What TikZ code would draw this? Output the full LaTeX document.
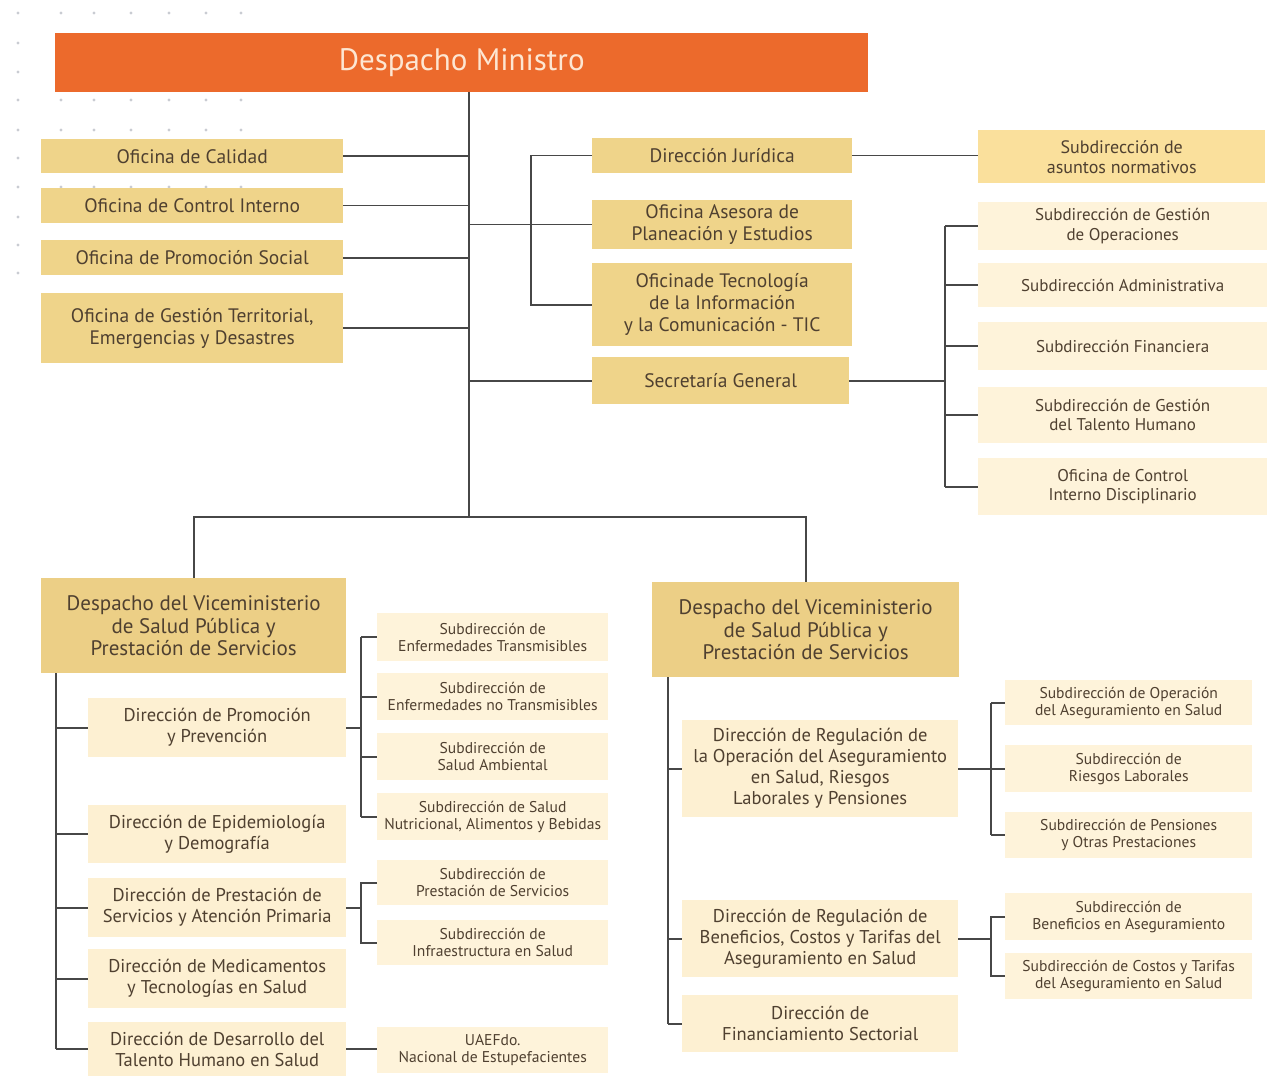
\documentclass[tikz,border=0pt]{standalone}
\usepackage{fontspec}
\setmainfont{PT Sans}
\definecolor{headorange}{HTML}{EC6A2C}
\definecolor{headtext}{HTML}{FDE6D2}
\definecolor{goldA}{HTML}{EFD48A}
\definecolor{goldB}{HTML}{ECCF86}
\definecolor{goldC}{HTML}{FAE09C}
\definecolor{paleA}{HTML}{FDF0D2}
\definecolor{paleB}{HTML}{FEF3DA}
\definecolor{inktext}{HTML}{4F4030}
\definecolor{linkgray}{HTML}{474747}
\definecolor{dotgray}{HTML}{C9CCD2}
\tikzset{
  base/.style={rectangle, inner sep=0pt, align=center, text=inktext, anchor=north west},
  headbox/.style={base, fill=headorange, text=headtext, font=\fontsize{31}{34}\selectfont},
  topbox/.style={base, fill=goldA, font=\fontsize{19.5}{22}\selectfont},
  normbox/.style={base, fill=goldC, font=\fontsize{18}{20}\selectfont},
  vicebox/.style={base, fill=goldB, font=\fontsize{21}{22.5}\selectfont},
  dirbox/.style={base, fill=paleA, font=\fontsize{18.5}{21}\selectfont},
  subbox/.style={base, fill=paleB, font=\fontsize{15.6}{17}\selectfont},
  secsub/.style={base, fill=paleB, font=\fontsize{17}{19.5}\selectfont},
  link/.style={draw=linkgray, line width=1.6pt},
  dot/.style={fill=dotgray, draw=none}
}
\begin{document}
\begin{tikzpicture}[x=1pt, y=-1pt]
\useasboundingbox (0,0) rectangle (1269,1078);

% decorative dot grid
\foreach \xx in {18,61,94,131,169,206,241}
  \foreach \yy in {13,100,130,187}
    \fill[dot] (\xx,\yy) circle (1.6pt);
\foreach \yy in {43,72,158,217,245,273}
  \fill[dot] (18,\yy) circle (1.6pt);

% head
\node[headbox, minimum width=813pt, minimum height=59pt] (head) at (55,33) {\raisebox{-3pt}{Despacho Ministro}};

% offices on the left of the trunk
\node[topbox, minimum width=302pt, minimum height=34pt] (calidad) at (41,139) {Oficina de Calidad};
\node[topbox, minimum width=302pt, minimum height=35pt] (control) at (41,188) {Oficina de Control Interno};
\node[topbox, minimum width=302pt, minimum height=35pt] (promo) at (41,240) {Oficina de Promoción Social};
\node[topbox, minimum width=302pt, minimum height=70pt] (gestion) at (41,293) {Oficina de Gestión Territorial,\\Emergencias y Desastres};

% offices on the right of the trunk
\node[topbox, minimum width=260pt, minimum height=35pt] (juridica) at (592,138) {Dirección Jurídica};
\node[topbox, minimum width=260pt, minimum height=49pt] (asesora) at (592,200) {Oficina Asesora de\\Planeación y Estudios};
\node[topbox, minimum width=260pt, minimum height=83pt] (tic) at (592,263) {Oficinade Tecnología\\de la Información\\y la Comunicación - TIC};
\node[topbox, minimum width=257pt, minimum height=47pt] (secretaria) at (592,357) {Secretaría General};

\node[normbox, minimum width=287pt, minimum height=53pt] (normativos) at (978,130) {Subdirección de\\asuntos normativos};

\node[secsub, minimum width=289pt, minimum height=48pt] (operaciones) at (978,202) {Subdirección de Gestión\\de Operaciones};
\node[secsub, minimum width=289pt, minimum height=44pt] (administrativa) at (978,263) {Subdirección Administrativa};
\node[secsub, minimum width=289pt, minimum height=48pt] (financiera) at (978,322) {Subdirección Financiera};
\node[secsub, minimum width=289pt, minimum height=56pt] (talento) at (978,387) {Subdirección de Gestión\\del Talento Humano};
\node[secsub, minimum width=289pt, minimum height=57pt] (disciplinario) at (978,458) {Oficina de Control\\Interno Disciplinario};

% vice-ministries
\node[vicebox, minimum width=305pt, minimum height=95pt] (viceL) at (41,578) {Despacho del Viceministerio\\de Salud Pública y\\Prestación de Servicios};
\node[vicebox, minimum width=307pt, minimum height=95pt] (viceR) at (652,582) {Despacho del Viceministerio\\de Salud Pública y\\Prestación de Servicios};

% left directorates
\node[dirbox, minimum width=258pt, minimum height=59pt] (promocion) at (88,698) {Dirección de Promoción\\y Prevención};
\node[dirbox, minimum width=258pt, minimum height=58pt] (epidemio) at (88,805) {Dirección de Epidemiología\\y Demografía};
\node[dirbox, minimum width=258pt, minimum height=59pt] (prestacion) at (88,878) {Dirección de Prestación de\\Servicios y Atención Primaria};
\node[dirbox, minimum width=258pt, minimum height=59pt] (medicamentos) at (88,949) {Dirección de Medicamentos\\y Tecnologías en Salud};
\node[dirbox, minimum width=258pt, minimum height=54pt] (desarrollo) at (88,1022) {Dirección de Desarrollo del\\Talento Humano en Salud};

% left sub-directorates
\node[subbox, minimum width=231pt, minimum height=48pt] (transm) at (377,613) {Subdirección de\\Enfermedades Transmisibles};
\node[subbox, minimum width=231pt, minimum height=47pt] (notransm) at (377,673) {Subdirección de\\Enfermedades no Transmisibles};
\node[subbox, minimum width=231pt, minimum height=47pt] (ambiental) at (377,733) {Subdirección de\\Salud Ambiental};
\node[subbox, minimum width=231pt, minimum height=47pt] (nutricional) at (377,793) {Subdirección de Salud\\Nutricional, Alimentos y Bebidas};
\node[subbox, minimum width=231pt, minimum height=45pt] (prestserv) at (377,860) {Subdirección de\\Prestación de Servicios};
\node[subbox, minimum width=231pt, minimum height=45pt] (infra) at (377,920) {Subdirección de\\Infraestructura en Salud};
\node[subbox, minimum width=231pt, minimum height=46pt] (uaef) at (377,1027) {UAEFdo.\\Nacional de Estupefacientes};

% right directorates
\node[dirbox, minimum width=276pt, minimum height=97pt] (regop) at (682,720) {Dirección de Regulación de\\la Operación del Aseguramiento\\en Salud, Riesgos\\Laborales y Pensiones};
\node[dirbox, minimum width=276pt, minimum height=77pt] (regben) at (682,900) {Dirección de Regulación de\\Beneficios, Costos y Tarifas del\\Aseguramiento en Salud};
\node[dirbox, minimum width=276pt, minimum height=57pt] (financ) at (682,995) {Dirección de\\Financiamiento Sectorial};

% right sub-directorates
\node[subbox, minimum width=247pt, minimum height=45pt] (opaseg) at (1005,680) {Subdirección de Operación\\del Aseguramiento en Salud};
\node[subbox, minimum width=247pt, minimum height=47pt] (riesgos) at (1005,745) {Subdirección de\\Riesgos Laborales};
\node[subbox, minimum width=247pt, minimum height=46pt] (pensiones) at (1005,812) {Subdirección de Pensiones\\y Otras Prestaciones};
\node[subbox, minimum width=247pt, minimum height=47pt] (beneficios) at (1005,893) {Subdirección de\\Beneficios en Aseguramiento};
\node[subbox, minimum width=247pt, minimum height=46pt] (costos) at (1005,953) {Subdirección de Costos y Tarifas\\del Aseguramiento en Salud};

% trunk and junction points
\coordinate (trunkTop) at (469,92);
\coordinate (trunkBot) at (469,517);
\coordinate (jurBus) at (531,156);
\coordinate (secBus) at (945,380);
\coordinate (leftSpine) at (56,673);
\coordinate (leftBus) at (361,700);
\coordinate (rightSpine) at (668,677);
\coordinate (rightBus) at (991,700);

\draw[link] (trunkTop) -- (trunkBot);
\foreach \n in {calidad,control,promo,gestion}
  \draw[link] (\n.east) -- (\n.east -| trunkTop);
\draw[link] (asesora.west -| trunkTop) -- (asesora.west);
\draw[link] (secretaria.west -| trunkTop) -- (secretaria.west);
\draw[link] (juridica.west) -- (juridica.west -| jurBus) -- (tic.west -| jurBus) -- (tic.west);
\draw[link] (juridica.east) -- (juridica.east -| normativos.west);

% Secretaría General branch
\draw[link] (secretaria.east) -- (secretaria.east -| secBus);
\draw[link] (operaciones.west -| secBus) -- (disciplinario.west -| secBus);
\foreach \n in {operaciones,administrativa,financiera,talento,disciplinario}
  \draw[link] (\n.west -| secBus) -- (\n.west);

% bar to the vice-ministries
\draw[link] (viceL.north) -- (viceL.north |- trunkBot) -- (viceR.north |- trunkBot) -- (viceR.north);

% left vice-ministry
\draw[link] (viceL.south -| leftSpine) -- (desarrollo.west -| leftSpine);
\foreach \n in {promocion,epidemio,prestacion,medicamentos,desarrollo}
  \draw[link] (\n.west -| leftSpine) -- (\n.west);
\draw[link] (promocion.east) -- (promocion.east -| leftBus);
\draw[link] (transm.west -| leftBus) -- (nutricional.west -| leftBus);
\foreach \n in {transm,notransm,ambiental,nutricional}
  \draw[link] (\n.west -| leftBus) -- (\n.west);
\draw[link] (prestacion.east) -- (prestacion.east -| leftBus);
\draw[link] (prestserv.west) -- (prestserv.west -| leftBus) -- (infra.west -| leftBus) -- (infra.west);
\draw[link] (desarrollo.east) -- (desarrollo.east -| uaef.west);

% right vice-ministry
\draw[link] (viceR.south -| rightSpine) -- (financ.west -| rightSpine);
\foreach \n in {regop,regben,financ}
  \draw[link] (\n.west -| rightSpine) -- (\n.west);
\draw[link] (regop.east) -- (regop.east -| rightBus);
\draw[link] (opaseg.west -| rightBus) -- (pensiones.west -| rightBus);
\foreach \n in {opaseg,riesgos,pensiones}
  \draw[link] (\n.west -| rightBus) -- (\n.west);
\draw[link] (regben.east) -- (regben.east -| rightBus);
\draw[link] (beneficios.west) -- (beneficios.west -| rightBus) -- (costos.west -| rightBus) -- (costos.west);
\end{tikzpicture}
\end{document}
